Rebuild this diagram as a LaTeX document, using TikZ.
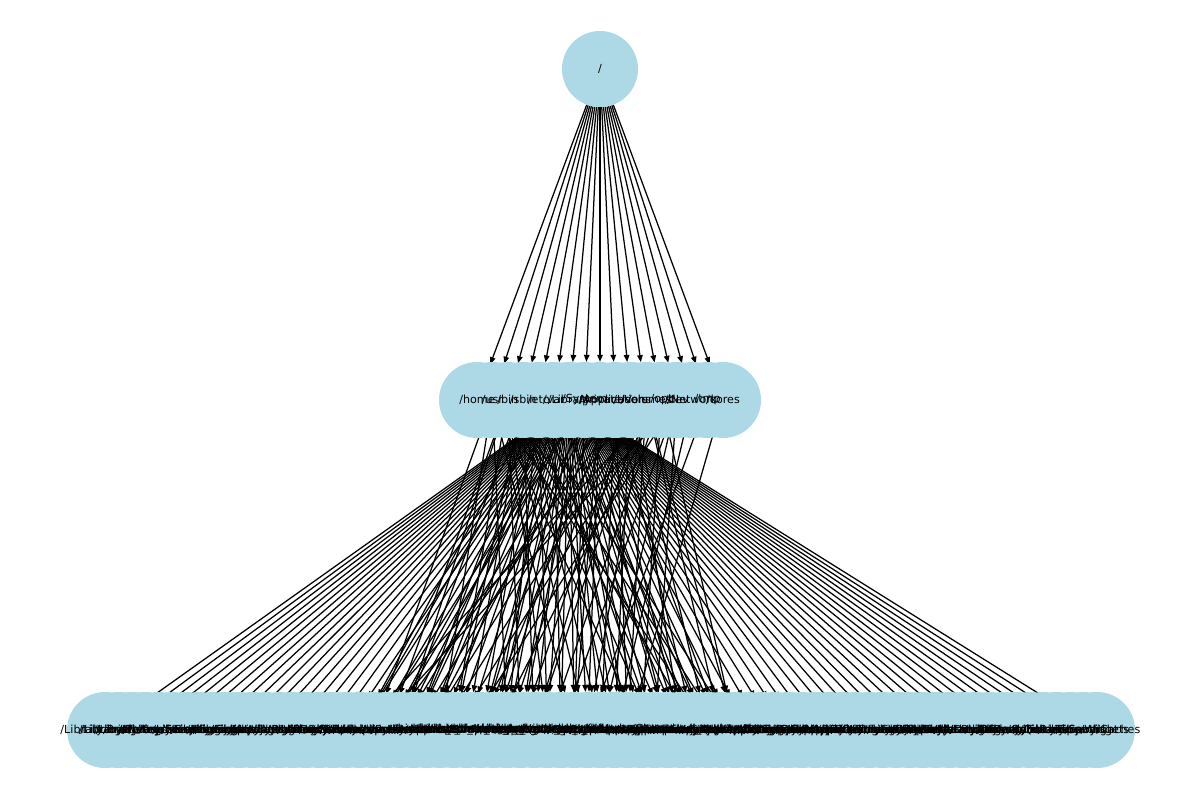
\documentclass[tikz,border=0pt]{standalone}
\usepackage{fontspec}
\setmainfont{DejaVu Sans}
\usetikzlibrary{arrows.meta}
\definecolor{lblue}{RGB}{173,216,230}
\pgfdeclarelayer{edges}
\pgfdeclarelayer{labels}
\pgfsetlayers{edges,main,labels}
\begin{document}
\begin{tikzpicture}[x=1pt,y=-1pt,
  circ/.style={circle,fill=lblue,minimum size=76pt,inner sep=0pt},
  lab/.style={inner sep=0pt,font=\fontsize{11.1}{13}\selectfont},
  edge/.style={line width=1.25pt,-{Triangle[length=7pt,width=5.5pt]}}]
\useasboundingbox (0,0) rectangle (1200,800);
% nodes
\node[circ] (r) at (600,69) {};
\foreach \i in {0,...,16} {\node[circ] (m\i) at ({477+\i*15.375},400) {};}
\foreach \j in {0,...,74} {\node[circ] (b\j) at ({105+\j*13.4054},730) {};}
% edges
\begin{pgfonlayer}{edges}
\foreach \i in {0,...,16} {\draw[edge] (r) -- (m\i);}
\foreach \j in {0,...,18} {\draw[edge] (m6) -- (b\j);}
\foreach \j in {48,...,74} {\draw[edge] (m6) -- (b\j);}
\foreach \j in {19,...,47} {
  \pgfmathtruncatemacro\pa{1+mod(\j,5)}
  \pgfmathtruncatemacro\pb{7+mod(\j,7)}
  \pgfmathtruncatemacro\pc{2+mod(3*\j,11)}
  \draw[edge] (m6) -- (b\j);
  \draw[edge] (m\pa) -- (b\j);
  \draw[edge] (m\pb) -- (b\j);
  \ifnum\pc=\pa\else\ifnum\pc=\pb\else\ifnum\pc=6\else
    \draw[edge] (m\pc) -- (b\j);\fi\fi\fi
}
\draw[edge] (m13) -- (b37);
\draw[edge] (m14) -- (b38);
\draw[edge] (m15) -- (b36);
\draw[edge] (m16) -- (b39);
\end{pgfonlayer}
% labels
\begin{pgfonlayer}{labels}
\node[lab] at (r) {/};
\node[lab] at (m0) {/home};
\node[lab] at (m1) {/usr};
\node[lab] at (m2) {/bin};
\node[lab] at (m3) {/sbin};
\node[lab] at (m4) {/etc};
\node[lab] at (m5) {/var};
\node[lab] at (m6) {/Library};
\node[lab] at (m7) {/System};
\node[lab] at (m8) {/private};
\node[lab] at (m9) {/Applications};
\node[lab] at (m10) {/Users};
\node[lab] at (m11) {/Volumes};
\node[lab] at (m12) {/opt};
\node[lab] at (m13) {/dev};
\node[lab] at (m14) {/Network};
\node[lab] at (m15) {/tmp};
\node[lab] at (m16) {/cores};
\node[lab] at (b0) {/Library/Printers};
\node[lab] at (b1) {/Library/Fonts};
\node[lab] at (b2) {/Library/Logs};
\node[lab] at (b3) {/Library/Keychains};
\node[lab] at (b4) {/Library/Preferences/Logging};
\node[lab] at (b5) {/Library/Extensions};
\node[lab] at (b6) {/Library/Frameworks};
\node[lab] at (b7) {/Library/Services};
\node[lab] at (b8) {/Library/Scripts};
\node[lab] at (b9) {/Library/Security/SecurityAgentPlugins};
\node[lab] at (b10) {/Library/Updates};
\node[lab] at (b11) {/Library/Audio/Plug-Ins};
\node[lab] at (b12) {/Library/Filesystems};
\node[lab] at (b13) {/Library/Java/JavaVirtualMachines};
\node[lab] at (b14) {/Library/Modem Scripts};
\node[lab] at (b15) {/Library/PDF Services};
\node[lab] at (b16) {/Library/Perl};
\node[lab] at (b17) {/Library/Receipts};
\node[lab] at (b18) {/Library/Sandbox/Profiles};
\node[lab] at (b19) {/usr/local/bin/python3};
\node[lab] at (b20) {/usr/lib/system/libsystem};
\node[lab] at (b21) {/usr/local/share/man/man1};
\node[lab] at (b22) {/usr/sbin/sysadminctl};
\node[lab] at (b23) {/usr/share/zoneinfo/Europe};
\node[lab] at (b24) {/usr/libexec/ApplicationFirewall};
\node[lab] at (b25) {/usr/standalone/firmware};
\node[lab] at (b26) {/bin/bash\_completion};
\node[lab] at (b27) {/bin/launchctl\_helper};
\node[lab] at (b28) {/bin/cp\_extended\_attrs};
\node[lab] at (b29) {/bin/zsh\_sessions\_history};
\node[lab] at (b30) {/sbin/mount\_apfs\_volume};
\node[lab] at (b31) {/sbin/ping\_network\_check};
\node[lab] at (b32) {/etc/hosts\_equivalent\_file};
\node[lab] at (b33) {/etc/paths.d/100-rvictl};
\node[lab] at (b34) {/etc/ssh/sshd\_config.d};
\node[lab] at (b35) {/var/log/DiagnosticMessages};
\node[lab] at (b36) {/var/db/ConfigurationProfiles};
\node[lab] at (b37) {/var/tmp/com.apple.launchd};
\node[lab] at (b38) {/var/root/Library/Caches};
\node[lab] at (b39) {/var/folders/zz/temporary};
\node[lab] at (b40) {/private/etc/periodic/daily};
\node[lab] at (b41) {/private/var/networkd/db};
\node[lab] at (b42) {/private/tmp/com.apple.launchd};
\node[lab] at (b43) {/Users/Shared/adi\_registration};
\node[lab] at (b44) {/Users/admin/Library/Mobile Documents};
\node[lab] at (b45) {/Applications/Safari.app/Contents};
\node[lab] at (b46) {/Applications/Utilities/Terminal.app};
\node[lab] at (b47) {/opt/homebrew/Cellar/python};
\node[lab] at (b48) {/Library/Application Support/Apple};
\node[lab] at (b49) {/Library/Apple/System/Library};
\node[lab] at (b50) {/Library/Bundles};
\node[lab] at (b51) {/Library/ColorSync/Profiles};
\node[lab] at (b52) {/Library/Components};
\node[lab] at (b53) {/Library/Compositions};
\node[lab] at (b54) {/Library/CoreMediaIO/Plug-Ins/DAL};
\node[lab] at (b55) {/Library/Developer/CommandLineTools};
\node[lab] at (b56) {/Library/DirectoryServices};
\node[lab] at (b57) {/Library/Documentation/Help};
\node[lab] at (b58) {/Library/DriverExtensions};
\node[lab] at (b59) {/Library/Graphics};
\node[lab] at (b60) {/Library/Image Capture/Devices};
\node[lab] at (b61) {/Library/Input Methods};
\node[lab] at (b62) {/Library/Internet Plug-Ins};
\node[lab] at (b63) {/Library/Keyboard Layouts};
\node[lab] at (b64) {/Library/LaunchAgents};
\node[lab] at (b65) {/Library/LaunchDaemons};
\node[lab] at (b66) {/Library/OSAnalytics};
\node[lab] at (b67) {/Library/PreferencePanes};
\node[lab] at (b68) {/Library/QuickLook};
\node[lab] at (b69) {/Library/QuickTime};
\node[lab] at (b70) {/Library/Screen Savers};
\node[lab] at (b71) {/Library/Speech};
\node[lab] at (b72) {/Library/Spotlight};
\node[lab] at (b73) {/Library/Widgets};
\node[lab] at (b74) {/Library/Caches};
\end{pgfonlayer}
\end{tikzpicture}
\end{document}
